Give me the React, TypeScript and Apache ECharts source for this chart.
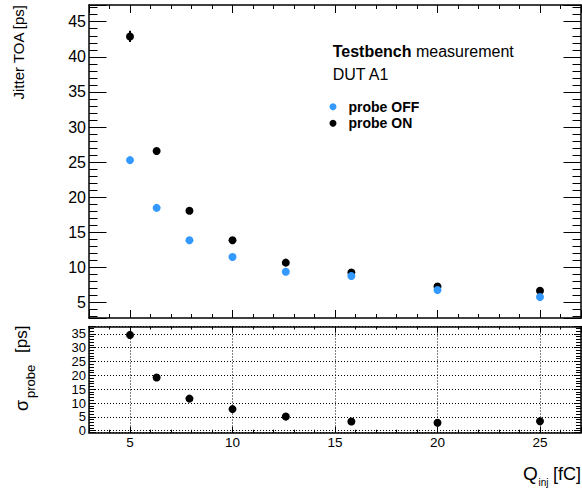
import React, { useEffect, useRef } from 'react';
import * as echarts from 'echarts';

// ---- data ----
const qInj = [5, 6.3, 7.9, 10, 12.6, 15.8, 20, 25];
const jitterOff = [25.3, 18.5, 13.9, 11.5, 9.4, 8.8, 6.8, 5.8];
const jitterOn = [42.9, 26.6, 18.1, 13.9, 10.7, 9.3, 7.3, 6.7];
const jitterOnErr = [0.8, 0.3, 0.2, 0.2, 0.1, 0.1, 0.1, 0.1];
const sigmaProbe = [34.6, 19.2, 11.6, 7.8, 5.1, 3.3, 2.9, 3.4];

const seriesNames = ['probe OFF', 'probe ON'];
const headerBold = 'Testbench';
const headerRest = 'measurement';
const dutLabel = 'DUT A1';
const yTitleTop = 'Jitter TOA [ps]';
const xRange = [3, 27];
const yRangeTop = [2.82, 47.38];
const yRangeBottom = [-0.72, 37.64];

const FONT = '"Liberation Sans", Arial, Helvetica, sans-serif';
const BLUE = '#3399ff';

const only5 = (v: number) =>
  Math.abs(v / 5 - Math.round(v / 5)) < 1e-6 ? String(Math.round(v)) : '';

function axis(
  kind: 'x' | 'y',
  gridIndex: number,
  position: string,
  range: number[],
  splitNumber: number,
  showLabels: boolean,
  labelSize: number,
  majorLen: number,
  minorLen: number,
  grid: boolean
) {
  return {
    type: 'value',
    gridIndex,
    position,
    min: range[0],
    max: range[1],
    splitNumber,
    axisLine: { show: true, onZero: false, lineStyle: { color: '#000', width: 1.5 } },
    axisTick: { show: true, inside: true, length: majorLen, lineStyle: { color: '#000', width: 1 } },
    minorTick: { show: true, splitNumber: 5, length: minorLen, lineStyle: { color: '#000', width: 1 } },
    axisLabel: {
      show: showLabels,
      formatter: only5,
      color: '#000',
      fontFamily: FONT,
      fontSize: labelSize,
      lineHeight: labelSize,
      margin: 3,
      showMinLabel: false,
      showMaxLabel: false,
    },
    splitLine: { show: grid, lineStyle: { color: '#000', width: 1, type: [1, 2] } },
    minorSplitLine: { show: false },
  };
}

export default function App() {
  const ref = useRef<HTMLDivElement>(null);
  useEffect(() => {
    if (!ref.current) return;
    const chart = echarts.init(ref.current, undefined, { renderer: 'svg' });
    const cs = (fs: number) => -0.3465 * fs;
    const option: any = {
      animation: false,
      backgroundColor: '#fff',
      grid: [
        { left: 89, top: 5, width: 492, height: 313, outerBoundsMode: 'none' },
        { left: 89, top: 326.5, width: 492, height: 106.2, outerBoundsMode: 'none' },
      ],
      xAxis: [
        axis('x', 0, 'bottom', xRange, 5, false, 14, 8, 4, false),
        axis('x', 0, 'top', xRange, 5, false, 14, 8, 4, false),
        axis('x', 1, 'bottom', xRange, 5, true, 13.5, 6, 3, true),
        axis('x', 1, 'top', xRange, 5, false, 14, 6, 3, false),
      ],
      yAxis: [
        axis('y', 0, 'left', yRangeTop, 9, true, 16, 17.5, 8.5, false),
        axis('y', 0, 'right', yRangeTop, 9, false, 16, 17.5, 8.5, false),
        axis('y', 1, 'left', yRangeBottom, 8, true, 13, 7, 5, true),
        axis('y', 1, 'right', yRangeBottom, 8, false, 13, 7, 5, false),
      ],
      legend: {
        data: seriesNames,
        orient: 'vertical',
        left: 324.5,
        top: 93.4,
        itemWidth: 21,
        itemHeight: 7,
        itemGap: 0,
        icon: 'circle',
        selectedMode: false,
        textStyle: { fontFamily: FONT, fontSize: 14, fontWeight: 'bold', color: '#000', lineHeight: 16.6 },
      },
      series: [
        {
          type: 'custom',
          xAxisIndex: 0,
          yAxisIndex: 0,
          data: qInj.map((q, i) => [q, jitterOn[i] - jitterOnErr[i], jitterOn[i] + jitterOnErr[i]]),
          renderItem: (_p: any, api: any) => {
            const a = api.coord([api.value(0), api.value(1)]);
            const b = api.coord([api.value(0), api.value(2)]);
            return {
              type: 'line',
              shape: { x1: a[0], y1: a[1], x2: b[0], y2: b[1] },
              style: { stroke: '#000', lineWidth: 2 },
            };
          },
          z: 2,
        },
        {
          type: 'scatter',
          name: seriesNames[1],
          xAxisIndex: 0,
          yAxisIndex: 0,
          data: qInj.map((q, i) => [q, jitterOn[i]]),
          symbol: 'circle',
          symbolSize: 8,
          itemStyle: { color: '#000', opacity: 1 },
          z: 3,
        },
        {
          type: 'scatter',
          name: seriesNames[0],
          xAxisIndex: 0,
          yAxisIndex: 0,
          data: qInj.map((q, i) => [q, jitterOff[i]]),
          symbol: 'circle',
          symbolSize: 8,
          itemStyle: { color: BLUE, opacity: 1 },
          z: 4,
        },
        {
          type: 'scatter',
          name: 'sigma',
          xAxisIndex: 2,
          yAxisIndex: 2,
          data: qInj.map((q, i) => [q, sigmaProbe[i]]),
          symbol: 'circle',
          symbolSize: 8,
          itemStyle: { color: '#000', opacity: 1 },
          z: 3,
        },
      ],
      graphic: [
        {
          type: 'text',
          x: 332.7,
          y: 57.5 + cs(16),
          style: {
            text: `{b|${headerBold}} ${headerRest}`,
            rich: { b: { fontWeight: 'bold', fontFamily: FONT, fontSize: 16, fill: '#000' } },
            fontFamily: FONT,
            fontSize: 16,
            fill: '#000',
            verticalAlign: 'middle',
            align: 'left',
          },
        },
        {
          type: 'text',
          x: 332.7,
          y: 80 + cs(16),
          style: { text: dutLabel, fontFamily: FONT, fontSize: 16, fill: '#000', verticalAlign: 'middle', align: 'left' },
        },
        {
          type: 'group',
          x: 24,
          y: 5,
          rotation: Math.PI / 2,
          children: [
            {
              type: 'text',
              x: 0,
              y: cs(15),
              style: { text: yTitleTop, fontFamily: FONT, fontSize: 15, fill: '#000', align: 'right', verticalAlign: 'middle' },
            },
          ],
        },
        {
          type: 'group',
          x: 28,
          y: 411,
          rotation: Math.PI / 2,
          children: [
            {
              type: 'text',
              x: 0,
              y: cs(18),
              style: { text: 'σ', fontFamily: FONT, fontSize: 18, fill: '#000', align: 'left', verticalAlign: 'middle' },
            },
            {
              type: 'text',
              x: 13,
              y: 7 + cs(13),
              style: { text: 'probe', fontFamily: FONT, fontSize: 13, fill: '#000', align: 'left', verticalAlign: 'middle' },
            },
            {
              type: 'text',
              x: 58,
              y: -1 + cs(17),
              style: { text: '[ps]', fontFamily: FONT, fontSize: 17, fill: '#000', align: 'left', verticalAlign: 'middle' },
            },
          ],
        },
        {
          type: 'text',
          x: 523,
          y: 480 + cs(19),
          style: { text: 'Q', fontFamily: FONT, fontSize: 19, fill: '#000', align: 'left', verticalAlign: 'middle' },
        },
        {
          type: 'text',
          x: 538.5,
          y: 485.5 + cs(10),
          style: { text: 'inj', fontFamily: FONT, fontSize: 10, fill: '#000', align: 'left', verticalAlign: 'middle' },
        },
        {
          type: 'text',
          x: 581,
          y: 480 + cs(18),
          style: { text: '[fC]', fontFamily: FONT, fontSize: 18, fill: '#000', align: 'right', verticalAlign: 'middle' },
        },
      ],
    };
    chart.setOption(option);
    return () => chart.dispose();
  }, []);
  return (
    <div
      ref={ref}
      style={{ position: 'absolute', left: 0, top: 0, width: 582, height: 488, background: '#fff' }}
    />
  );
}
